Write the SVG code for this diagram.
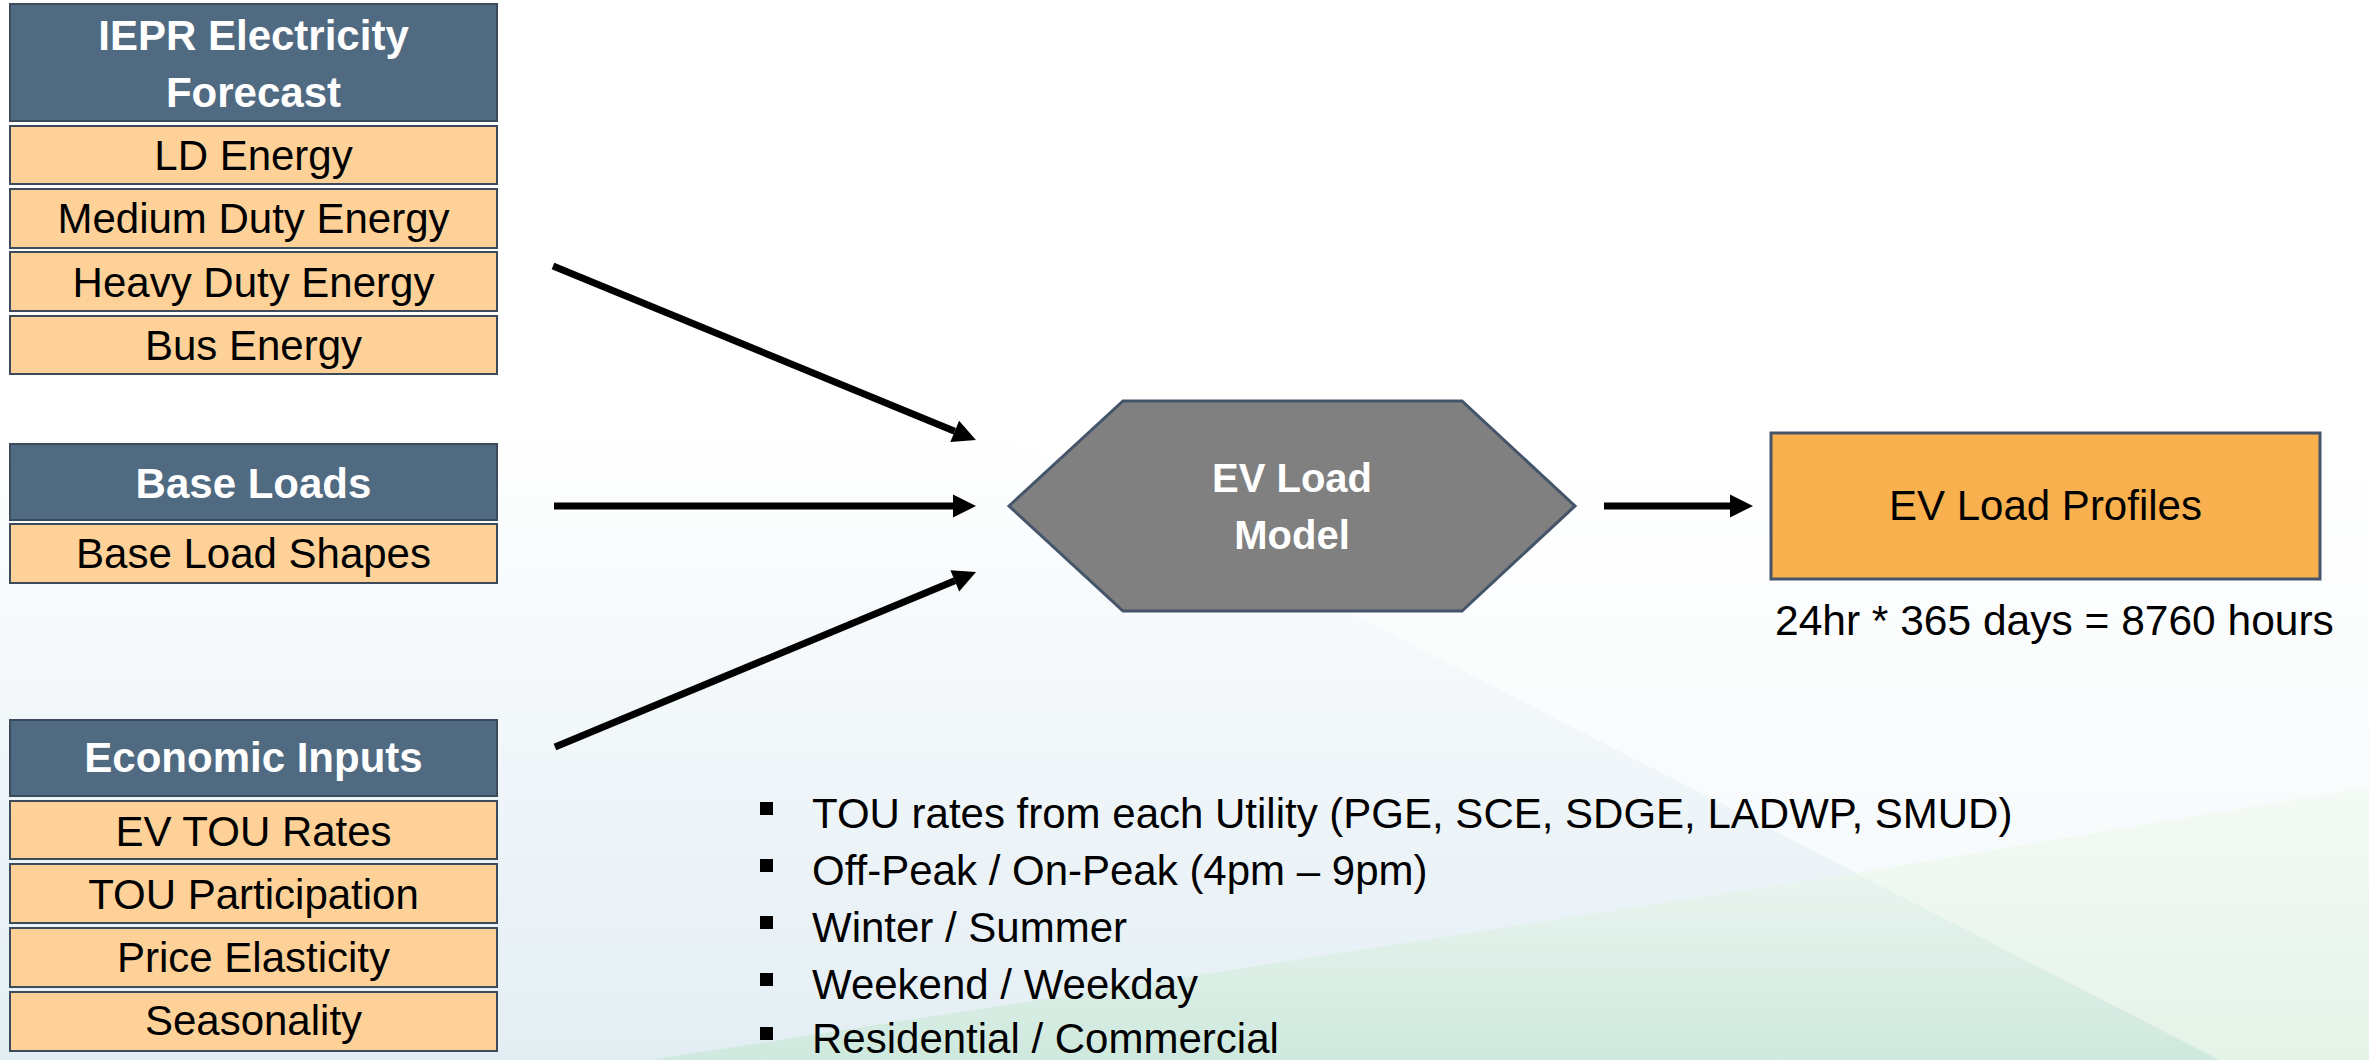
<svg xmlns="http://www.w3.org/2000/svg" width="2369" height="1060" viewBox="0 0 2369 1060">
  <style>
    .hdr { fill: #506A82; stroke: #3B4B5C; stroke-width: 2; }
    .item { fill: #FDD197; stroke: #3B4B5C; stroke-width: 2; }
    .ht { font-family: "Liberation Sans", Arial, sans-serif; font-weight: bold; font-size: 42px; fill: #FFFFFF; text-anchor: middle; }
    .it { font-family: "Liberation Sans", Arial, sans-serif; font-size: 42px; fill: #000000; text-anchor: middle; }
    .bt { font-family: "Liberation Sans", Arial, sans-serif; font-size: 42px; fill: #000000; }
    .conn { stroke: #000000; stroke-width: 7; fill: none; marker-end: url(#ah); }
  </style>
  <defs>
    <marker id="ah" markerUnits="userSpaceOnUse" markerWidth="24" markerHeight="24" refX="0" refY="11.5" orient="auto" overflow="visible">
      <path d="M0,0 L23,11.5 L0,23 Z" fill="#000000"/>
    </marker>
    <linearGradient id="bgv" x1="0" y1="0" x2="0" y2="1">
      <stop offset="0" stop-color="#FFFFFF"/>
      <stop offset="0.4" stop-color="#FFFFFF"/>
      <stop offset="1" stop-color="#E3EEF4"/>
    </linearGradient>
    <linearGradient id="grn" x1="0" y1="0" x2="0" y2="1">
      <stop offset="0" stop-color="#E9F4EF"/>
      <stop offset="1" stop-color="#CFE9DE"/>
    </linearGradient>
    <linearGradient id="grn2" x1="0" y1="0" x2="0" y2="1">
      <stop offset="0" stop-color="#F4FAF5"/>
      <stop offset="1" stop-color="#E4F3E8"/>
    </linearGradient>
  </defs>

  <!-- background -->
  <rect x="0" y="0" width="2369" height="1060" fill="url(#bgv)"/>
  <polygon points="1000,433 2220,1060 2369,1060 2369,0 1000,0" fill="#FFFFFF" opacity="0.6"/>
  <polygon points="650,1060 1856,873 2220,1060" fill="url(#grn)"/>
  <polygon points="1856,873 2369,787 2369,1060 2220,1060" fill="url(#grn2)"/>

  <!-- IEPR group -->
  <g id="iepr">
    <rect class="hdr" x="10" y="4" width="487" height="117"/>
    <text class="ht" x="253.5" y="50">IEPR Electricity</text>
    <text class="ht" x="253.5" y="107">Forecast</text>
  </g>
  <g id="ld-energy">
    <rect class="item" x="10" y="126" width="487" height="58"/>
    <text class="it" x="253.5" y="170">LD Energy</text>
  </g>
  <g id="medium-duty-energy">
    <rect class="item" x="10" y="189" width="487" height="59"/>
    <text class="it" x="253.5" y="233">Medium Duty Energy</text>
  </g>
  <g id="heavy-duty-energy">
    <rect class="item" x="10" y="252" width="487" height="59"/>
    <text class="it" x="253.5" y="297">Heavy Duty Energy</text>
  </g>
  <g id="bus-energy">
    <rect class="item" x="10" y="316" width="487" height="58"/>
    <text class="it" x="253.5" y="360">Bus Energy</text>
  </g>

  <!-- Base loads -->
  <g id="base-loads">
    <rect class="hdr" x="10" y="444" width="487" height="76"/>
    <text class="ht" x="253.5" y="498">Base Loads</text>
  </g>
  <g id="base-load-shapes">
    <rect class="item" x="10" y="524" width="487" height="59"/>
    <text class="it" x="253.5" y="568">Base Load Shapes</text>
  </g>

  <!-- Economic inputs -->
  <g id="economic-inputs">
    <rect class="hdr" x="10" y="720" width="487" height="76"/>
    <text class="ht" x="253.5" y="772">Economic Inputs</text>
  </g>
  <g id="ev-tou-rates">
    <rect class="item" x="10" y="801" width="487" height="58"/>
    <text class="it" x="253.5" y="846">EV TOU Rates</text>
  </g>
  <g id="tou-participation">
    <rect class="item" x="10" y="864" width="487" height="59"/>
    <text class="it" x="253.5" y="909">TOU Participation</text>
  </g>
  <g id="price-elasticity">
    <rect class="item" x="10" y="928" width="487" height="59"/>
    <text class="it" x="253.5" y="972">Price Elasticity</text>
  </g>
  <g id="seasonality">
    <rect class="item" x="10" y="992" width="487" height="59"/>
    <text class="it" x="253.5" y="1035">Seasonality</text>
  </g>

  <!-- EV Load Model -->
  <g id="ev-load-model">
    <polygon points="1009,506 1123,401 1462,401 1575,506 1462,611 1123,611" fill="#808080" stroke="#44546A" stroke-width="3"/>
    <text class="ht" x="1292" y="492" style="font-size:40px">EV Load</text>
    <text class="ht" x="1292" y="549" style="font-size:40px">Model</text>
  </g>

  <!-- EV Load Profiles -->
  <g id="ev-load-profiles">
    <rect x="1771" y="433" width="549" height="146" fill="#F9B04E" stroke="#44546A" stroke-width="3"/>
    <text class="it" x="2045.5" y="520">EV Load Profiles</text>
    <text class="bt" x="1775" y="635" style="font-size:42.5px">24hr * 365 days = 8760 hours</text>
  </g>

  <!-- bullets -->
  <g id="bullet-list">
    <rect x="760" y="802" width="13" height="13" fill="#000000"/>
    <text class="bt" x="812" y="828">TOU rates from each Utility (PGE, SCE, SDGE, LADWP, SMUD)</text>
    <rect x="760" y="859" width="13" height="13" fill="#000000"/>
    <text class="bt" x="812" y="885">Off-Peak / On-Peak (4pm – 9pm)</text>
    <rect x="760" y="916" width="13" height="13" fill="#000000"/>
    <text class="bt" x="812" y="942">Winter / Summer</text>
    <rect x="760" y="973" width="13" height="13" fill="#000000"/>
    <text class="bt" x="812" y="999">Weekend / Weekday</text>
    <rect x="760" y="1027" width="13" height="13" fill="#000000"/>
    <text class="bt" x="812" y="1053">Residential / Commercial</text>
  </g>

  <!-- connectors -->
  <g id="connectors">
    <line class="conn" x1="553" y1="266" x2="954.7" y2="431.3"/>
    <line class="conn" x1="554" y1="506" x2="953" y2="506"/>
    <line class="conn" x1="555" y1="747" x2="954.8" y2="580.8"/>
    <line class="conn" x1="1604" y1="506" x2="1730" y2="506"/>
  </g>
</svg>
